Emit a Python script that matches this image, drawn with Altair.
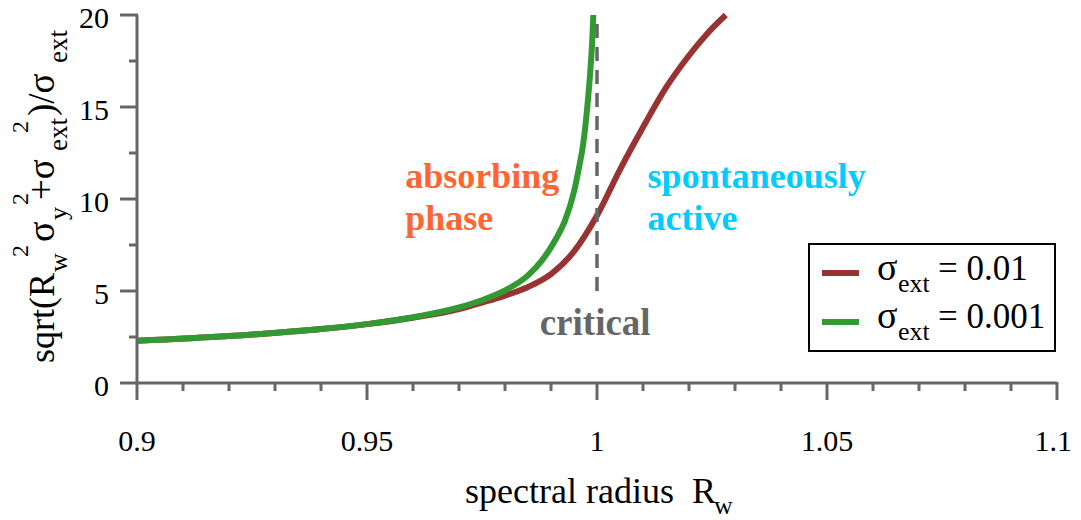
import altair as alt
import pandas as pd

# ---------------- data ----------------
x_major = [0.9, 0.95, 1.0, 1.05, 1.1]
x_labels = ["0.9", "0.95", "1", "1.05", "1.1"]
x_minor = [0.91, 0.92, 0.93, 0.94, 0.96, 0.97, 0.98, 0.99,
           1.01, 1.02, 1.03, 1.04, 1.06, 1.07, 1.08, 1.09]
y_major = [0, 5, 10, 15, 20]
y_labels = ["0", "5", "10", "15", "20"]
y_minor = [2.5, 7.5, 12.5, 17.5]

red_x = [0.90, 0.92, 0.94, 0.95, 0.96, 0.97, 0.975, 0.98, 0.985, 0.99,
         0.995, 1.000, 1.005, 1.010, 1.015, 1.020, 1.024, 1.028]
red_y = [2.29, 2.55, 2.93, 3.20, 3.55, 4.02, 4.37, 4.75, 5.22, 5.92,
         7.15, 9.10, 11.60, 13.90, 16.05, 17.80, 19.00, 20.00]

green_x = [0.90, 0.92, 0.94, 0.95, 0.96, 0.97, 0.975, 0.98, 0.985, 0.988,
           0.991, 0.993, 0.995, 0.996, 0.997, 0.998, 0.9985, 0.999, 0.9992]
green_y = [2.29, 2.55, 2.93, 3.20, 3.57, 4.11, 4.50, 5.03, 5.85, 6.65,
           7.80, 8.80, 10.40, 11.60, 13.00, 15.30, 16.80, 18.80, 20.00]

crit_x = [1.0]
crit_y = [5.0]
crit_y2 = [20.0]

ann_text = ["absorbing", "phase", "spontaneously", "active"]
ann_x = [0.9583, 0.9583, 1.0110, 1.0110]
ann_y = [10.6, 8.32, 10.6, 8.32]
ann_color = ["#FF6633", "#FF6633", "#00CCFF", "#00CCFF"]
crit_text = ["critical"]
crit_tx = [0.9996]
crit_ty = [2.6]

SERIF = "Liberation Serif"
RED = "#993333"
GREEN = "#339933"
GRAY = "#666666"

red_df = pd.DataFrame({"x": red_x, "y": red_y})
green_df = pd.DataFrame({"x": green_x, "y": green_y})
crit_df = pd.DataFrame({"x": crit_x, "y": crit_y, "y2": crit_y2})
ann_df = pd.DataFrame({"t": ann_text, "x": ann_x, "y": ann_y, "c": ann_color})
crit_t_df = pd.DataFrame({"t": crit_text, "x": crit_tx, "y": crit_ty})
xmaj_df = pd.DataFrame({"v": x_major, "t": x_labels})
ymaj_df = pd.DataFrame({"v": y_major, "t": y_labels})
xmin_df = pd.DataFrame({"v": x_minor})
ymin_df = pd.DataFrame({"v": y_minor})
one = pd.DataFrame({"k": [0]})

xs = alt.Scale(domain=[0.9, 1.1], nice=False, zero=False)
ys = alt.Scale(domain=[0, 20], nice=False)


def X(f):
    return alt.X(f, type="quantitative", scale=xs, axis=None)


def Y(f):
    return alt.Y(f, type="quantitative", scale=ys, axis=None)


H = 368  # plot height in px

# ---- hand-drawn axes ----
x_domain = alt.Chart(one).mark_rule(color=GRAY, strokeWidth=3).encode(
    x=alt.value(0), x2=alt.value(920), y=alt.value(H))
y_domain = alt.Chart(one).mark_rule(color=GRAY, strokeWidth=3).encode(
    x=alt.value(0), y=alt.value(0), y2=alt.value(H))
x_major_t = alt.Chart(xmaj_df).mark_rule(color=GRAY, strokeWidth=3).encode(
    x=X("v"), y=alt.value(H - 1), y2=alt.value(H + 17))
x_minor_t = alt.Chart(xmin_df).mark_rule(color=GRAY, strokeWidth=3).encode(
    x=X("v"), y=alt.value(H), y2=alt.value(H + 8))
y_major_t = alt.Chart(ymaj_df).mark_rule(color=GRAY, strokeWidth=3).encode(
    y=Y("v"), x=alt.value(-17), x2=alt.value(1))
y_minor_t = alt.Chart(ymin_df).mark_rule(color=GRAY, strokeWidth=3).encode(
    y=Y("v"), x=alt.value(-8), x2=alt.value(0))
x_lab = alt.Chart(xmaj_df).transform_filter("datum.v < 1.09").mark_text(
    font=SERIF, fontSize=30, color="black", align="center", baseline="alphabetic").encode(
    x=X("v"), y=alt.value(436), text="t:N")
x_lab_last = alt.Chart(xmaj_df).transform_filter("datum.v > 1.09").mark_text(
    font=SERIF, fontSize=30, color="black", align="right", baseline="alphabetic", dx=15).encode(
    x=X("v"), y=alt.value(436), text="t:N")
y_lab = alt.Chart(ymaj_df).mark_text(font=SERIF, fontSize=30, color="black",
                                     align="right", baseline="alphabetic", dy=13).encode(
    y=Y("v"), x=alt.value(-28), text="t:N")

# ---- data marks ----
red = alt.Chart(red_df).mark_line(color=RED, strokeWidth=6, interpolate="monotone").encode(
    x=X("x"), y=Y("y"))
green = alt.Chart(green_df).mark_line(color=GREEN, strokeWidth=6, interpolate="monotone").encode(
    x=X("x"), y=Y("y"))
crit = alt.Chart(crit_df).mark_rule(color=GRAY, strokeWidth=3.5, strokeDash=[14, 9]).encode(
    x=X("x"), y=Y("y"), y2="y2:Q")

ann = alt.Chart(ann_df).mark_text(font=SERIF, fontSize=36, fontWeight="bold",
                                  align="left", baseline="alphabetic").encode(
    x=X("x"), y=Y("y"), text="t:N", color=alt.Color("c:N", scale=None))
crit_lab = alt.Chart(crit_t_df).mark_text(font=SERIF, fontSize=37, fontWeight="bold",
                                          align="center", baseline="alphabetic", color=GRAY).encode(
    x=X("x"), y=Y("y"), text="t:N")


def txt(s, x, y, size, angle=0, align="left", color="black"):
    kw = dict(text=s, font=SERIF, fontSize=size, color=color, align=align,
              baseline="alphabetic")
    if angle:
        kw["angle"] = angle
    return alt.Chart(one).mark_text(**kw).encode(x=alt.value(x), y=alt.value(y))


deco = []
# x title: spectral radius  R_w
deco.append(txt("spectral radius \u00a0R", 328, 488, 36))
deco.append(txt("w", 577, 499, 26))

# y title (rotated, reads bottom to top), pieces
MB, SB, PB = -83, -70, -109
deco += [
    txt("sqrt(R", MB, 348, 36, 270),
    txt("w", SB, 257, 26, 270),
    txt("2", PB, 242, 24, 270),
    txt("σ", MB, 227, 38, 270),
    txt("y", SB, 205, 26, 270),
    txt("2", PB, 190, 24, 270),
    txt("+σ", MB, 185, 37, 270),
    txt("ext", SB, 136, 27, 270),
    txt("2", PB, 118, 24, 270),
    txt(")/σ", MB, 101, 37, 270),
    txt("ext", SB, 48, 27, 270),
]

# legend
legend_box = alt.Chart(one).mark_rect(fill="white", stroke="black", strokeWidth=2).encode(
    x=alt.value(672), x2=alt.value(918), y=alt.value(229), y2=alt.value(336))
deco.append(legend_box)
for yy, col in [(258, RED), (307, GREEN)]:
    deco.append(alt.Chart(one).mark_rule(color=col, strokeWidth=6).encode(
        x=alt.value(685), x2=alt.value(722), y=alt.value(yy)))
for yy, lab in [(265, "= 0.01"), (313, "= 0.001")]:
    deco.append(txt("σ", 740, yy, 38))
    deco.append(txt("ext", 761, yy + 12, 26))
    deco.append(txt(lab, 801, yy, 35))

chart = alt.layer(
    red, green, crit, x_domain, y_domain, x_major_t, x_minor_t, y_major_t, y_minor_t,
    x_lab, x_lab_last, y_lab, ann, crit_lab, *deco
).properties(
    width=920, height=H,
    autosize=alt.AutoSizeParams(type="none"),
    padding={"left": 129, "top": 7, "right": 16, "bottom": 140},
).configure_view(stroke=None)

chart.save("out.html", embed_options={"renderer": "svg", "actions": False})
